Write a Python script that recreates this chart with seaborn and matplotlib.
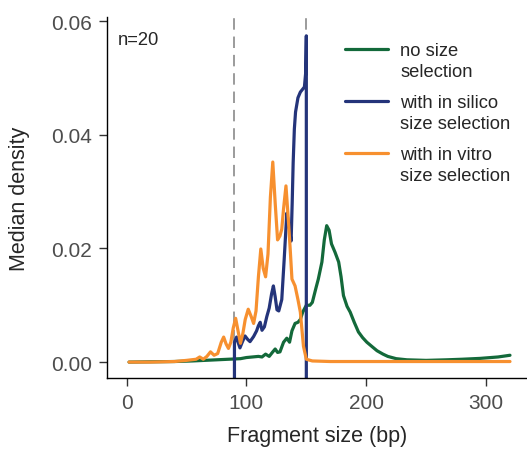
import numpy as np
import pandas as pd
import matplotlib
matplotlib.use("Agg")
import matplotlib.pyplot as plt
from matplotlib.ticker import FormatStrFormatter
import seaborn as sns

# median density per fragment size (bp)
groups = ["no size\nselection", "with in silico\nsize selection", "with in vitro\nsize selection"]
colors = ["#13693A", "#24347A", "#F7902F"]

no_sel_x = [2, 20, 40, 55, 65, 75, 85, 95, 100, 105,
            110, 113, 116, 119, 122, 124, 126, 128, 131, 133.7,
            136, 138, 140.6, 143, 145, 147, 150, 153, 155, 158,
            160, 163, 165, 167, 169, 171, 174, 177, 179, 181,
            184, 186.6, 190, 193.5, 197, 200.5, 205, 209, 214, 218,
            225, 234, 250, 267, 280, 295, 310, 320]
no_sel_y = [0, 0.00005, 0.0001, 0.0002, 0.0003, 0.0004, 0.0005, 0.0006, 0.0008, 0.0009,
            0.0010, 0.0009, 0.0014, 0.0010, 0.0018, 0.0023, 0.0017, 0.0018, 0.0035, 0.0042,
            0.0035, 0.0055, 0.0068, 0.0070, 0.0075, 0.0088, 0.0100, 0.0100, 0.0105, 0.0130,
            0.0146, 0.0176, 0.0215, 0.0240, 0.0232, 0.0208, 0.0193, 0.0176, 0.0150, 0.0117,
            0.0098, 0.0088, 0.0070, 0.0053, 0.0043, 0.0035, 0.0027, 0.0020, 0.0014, 0.0010,
            0.0006, 0.0004, 0.0003, 0.0004, 0.0005, 0.00065, 0.0009, 0.0012]

silico_x = [90, 90, 91.8, 93, 94.6, 96.5, 98.8, 101, 103, 106,
            108.5, 110, 111.5, 113, 115, 117, 119, 121, 122.5, 124,
            125.5, 127, 129.5, 131.5, 133.7, 135.5, 137.3, 138.2, 139, 140,
            141, 143, 145, 148.4, 149.5, 150, 150]
silico_y = [-0.005, 0.0035, 0.0044, 0.0035, 0.0025, 0.0035, 0.0046, 0.0040, 0.0036, 0.0045,
            0.0055, 0.0064, 0.0070, 0.0056, 0.0062, 0.0080, 0.0095, 0.0120, 0.0134, 0.0115,
            0.0092, 0.0090, 0.0110, 0.0180, 0.0262, 0.0240, 0.0213, 0.0280, 0.0350, 0.0410,
            0.0440, 0.0465, 0.0475, 0.0484, 0.0510, 0.0574, -0.005]

vitro_x = [2, 20, 40, 50, 58, 61, 64, 67, 70, 73,
           76, 79, 81, 83, 85, 87, 89, 91, 93, 95,
           97, 99, 101.5, 104, 106, 108, 110, 112, 114, 116,
           118, 120, 122, 124, 126, 128, 129.5, 131, 133, 135,
           136.5, 138, 140.6, 143, 145, 147.6, 150, 155, 170, 320]
vitro_y = [0, 0, 0.0001, 0.0003, 0.0005, 0.0009, 0.0005, 0.0010, 0.0018, 0.0012,
           0.0015, 0.0035, 0.0044, 0.0032, 0.0024, 0.0035, 0.0060, 0.0077, 0.0055, 0.0033,
           0.0050, 0.0075, 0.0093, 0.0080, 0.0068, 0.0090, 0.0150, 0.0199, 0.0165, 0.0150,
           0.0190, 0.0290, 0.0352, 0.0280, 0.0215, 0.0222, 0.0234, 0.0270, 0.0310, 0.0250,
           0.0200, 0.0146, 0.0134, 0.0110, 0.0088, 0.0028, 0.0005, 0.0002, 0.0001, 0.0001]

cutoffs = [90, 150]
x_ticks = [0, 100, 200, 300]
y_ticks = [0.0, 0.02, 0.04, 0.06]

df = pd.concat([
    pd.DataFrame({"size": no_sel_x, "density": no_sel_y, "group": groups[0]}),
    pd.DataFrame({"size": silico_x, "density": silico_y, "group": groups[1]}),
    pd.DataFrame({"size": vitro_x, "density": vitro_y, "group": groups[2]}),
], ignore_index=True)

sns.set_style("ticks")
plt.rcParams["font.family"] = ["Liberation Sans", "DejaVu Sans"]

fig, ax = plt.subplots(figsize=(5.27, 4.52), dpi=100)
fig.subplots_adjust(left=0.203, right=1.0, bottom=0.1615, top=0.960)

for xc in cutoffs:
    ax.axvline(xc, color="#808080", lw=1.1, dashes=(7.5, 4.5), zorder=1)

sns.lineplot(data=df, x="size", y="density", hue="group", hue_order=groups,
             palette=colors, estimator=None, sort=False, lw=2.3, ax=ax)
# blue line sits above the other two
ax.lines[-2].set_zorder(3)

ax.set_xlim(-16.4, 334.2)
ax.set_ylim(-0.0028, 0.0607)
ax.set_xticks(x_ticks)
ax.set_yticks(y_ticks)
ax.yaxis.set_major_formatter(FormatStrFormatter("%.2f"))
ax.tick_params(length=6, width=1, color="#333333", labelcolor="#4d4d4d",
               labelsize=15, pad=5)
for s in ["left", "bottom"]:
    ax.spines[s].set_linewidth(1.0)
    ax.spines[s].set_color("black")
sns.despine(ax=ax)

ax.set_xlabel("Fragment size (bp)", fontsize=15.5, labelpad=9)
ax.set_ylabel("Median density", fontsize=15.5, labelpad=15)

old = ax.get_legend()
handles = old.legend_handles
labels = [t.get_text() for t in old.get_texts()]
leg = ax.legend(handles, labels, loc="upper left", bbox_to_anchor=(0.567, 0.93),
                frameon=False, fontsize=13.25, handlelength=2.34, handletextpad=0.65,
                labelspacing=0.75, borderpad=0, borderaxespad=0)
plt.setp(leg.get_texts(), linespacing=1.3)
# put each key line next to the first line of its two-line label
for line in leg.get_lines():
    line.set_linewidth(2.3)
    line.set_ydata(np.asarray(line.get_ydata()) + 0.65 * 13.25)

ax.text(0.026, 0.925, "n=20", transform=ax.transAxes, fontsize=13.25, va="baseline")

fig.savefig("out.png", dpi=100)
